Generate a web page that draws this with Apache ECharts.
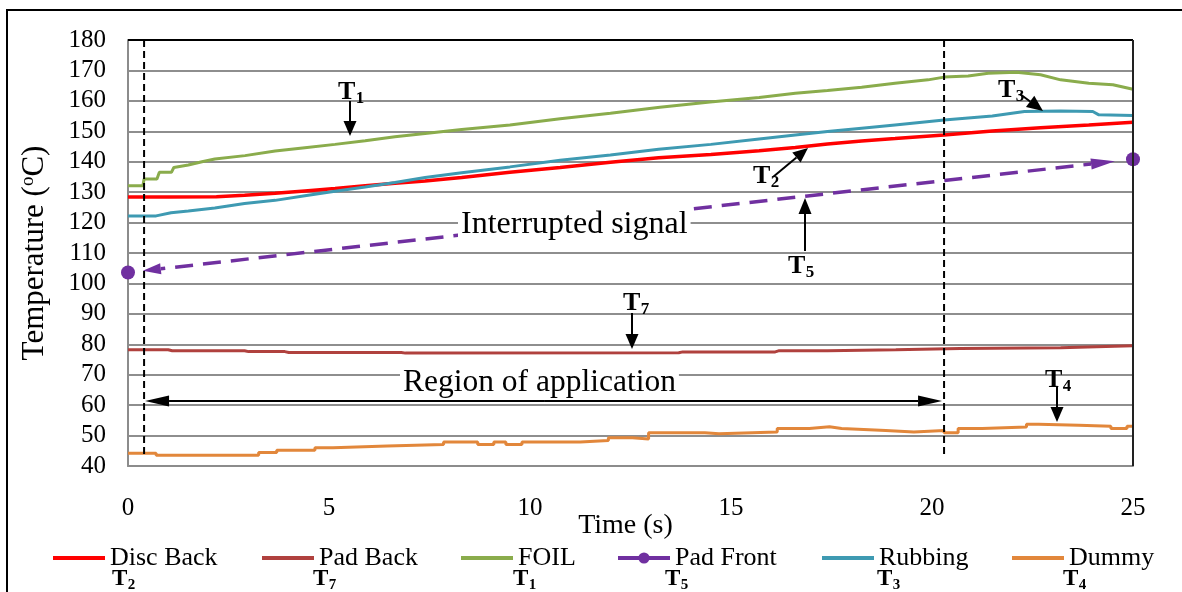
<!DOCTYPE html>
<html>
<head>
<meta charset="utf-8">
<script src="https://cdn.jsdelivr.net/npm/echarts@6/dist/echarts.min.js"></script>
<style>
  html, body { margin: 0; padding: 0; background: #fff; }
  #main { width: 1182px; height: 592px; }
</style>
</head>
<body>
<div id="main"></div>
<script>
// values (time in s, temperature in degC)
var discBackT = [0, 1, 2.2, 2.9, 3.66, 4.4, 5.15, 5.9, 6.64, 7.39, 8.3, 9.5, 10.75, 12.0, 13.2, 14.5, 15.7, 16.6, 17.4, 18.25, 19.08, 20.3, 21.5, 22.7, 23.9, 25];
var discBackV = [128.4, 128.4, 128.5, 129.0, 129.6, 130.4, 131.2, 132.1, 132.9, 133.7, 134.8, 136.5, 138.1, 139.8, 141.3, 142.4, 143.6, 144.7, 145.8, 146.8, 147.6, 148.8, 150.1, 151.2, 152.1, 153.0];

var padBackT = [0, 1.0, 1.1, 2.9, 3.0, 3.9, 4.0, 6.8, 6.9, 13.7, 13.8, 16.1, 16.2, 17.4, 19.1, 20.7, 23.2, 25];
var padBackV = [78.2, 78.2, 77.9, 77.9, 77.6, 77.6, 77.3, 77.3, 77.1, 77.2, 77.5, 77.5, 77.9, 77.9, 78.2, 78.6, 78.9, 79.5];

var foilT = [0, 0.37, 0.4, 0.72, 0.78, 1.08, 1.14, 1.5, 1.84, 2.16, 2.91, 3.66, 4.4, 5.15, 5.9, 6.64, 7.39, 8.3, 9.5, 10.75, 12.0, 13.23, 14.48, 15.7, 16.6, 17.4, 18.25, 19.08, 19.9, 20.3, 20.9, 21.4, 22.1, 22.7, 23.2, 23.9, 24.5, 25];
var foilV = [132.1, 132.1, 134.3, 134.3, 136.5, 136.5, 138.1, 138.9, 140.0, 140.9, 142.0, 143.5, 144.6, 145.7, 146.9, 148.2, 149.3, 150.6, 152.1, 154.1, 155.9, 157.9, 159.6, 161.1, 162.5, 163.4, 164.5, 165.8, 166.9, 167.8, 168.2, 169.1, 169.4, 168.6, 166.9, 165.8, 165.3, 163.8];

var padFrontT = [0, 25];
var padFrontV = [103.6, 140.8];

var rubbingT = [0, 0.7, 1.07, 1.5, 2.16, 2.9, 3.66, 4.4, 5.15, 5.9, 6.64, 7.39, 8.3, 9.5, 10.75, 12.0, 13.2, 14.5, 15.7, 16.6, 17.4, 18.25, 19.08, 20.3, 21.5, 22.3, 23.2, 24.0, 24.15, 25];
var rubbingV = [122.2, 122.2, 123.2, 123.8, 124.8, 126.3, 127.3, 128.8, 130.3, 131.7, 133.2, 134.8, 136.4, 138.3, 140.5, 142.2, 144.1, 145.7, 147.5, 148.8, 149.9, 151.0, 152.1, 153.7, 155.0, 156.5, 156.7, 156.5, 155.4, 155.2];

// dummy is drawn as steps: each value holds from its time to the next one
var dummyT = [0, 0.7, 3.25, 3.7, 4.65, 5.1, 6.45, 7.85, 8.7, 9.1, 9.4, 9.8, 11.25, 11.95, 12.55, 12.95, 14.35, 14.7, 16.15, 16.95, 17.45, 17.75, 18.85, 19.55, 20.3, 20.65, 21.25, 22.35, 22.65, 23.65, 24.45, 24.85, 25];
var dummyV = [44.2, 43.5, 44.4, 45.2, 46.0, 46.6, 47.1, 47.9, 47.1, 47.9, 47.1, 47.9, 48.4, 49.3, 48.9, 50.9, 50.6, 51.2, 52.3, 52.9, 52.3, 51.7, 51.2, 51.7, 50.9, 52.3, 52.8, 53.7, 53.4, 53.1, 52.3, 53.1, 53.1];

var seriesNames = ['Disc Back', 'Pad Back', 'FOIL', 'Pad Front', 'Rubbing', 'Dummy'];
var seriesColors = ['#ff0000', '#b0413e', '#8aac4c', '#7030a0', '#3e9ab2', '#e2873b'];
var legendTags = ['2', '7', '1', '5', '3', '4'];
var legendLefts = [51, 260, 459, 616, 820, 1010];

var yTicks = [40, 180, 10];
var xTicks = [0, 25, 5];
var regionStart = 0.4, regionEnd = 20.3;

var FONT = 'Liberation Serif';

function pairs(ts, vs) {
  return ts.map(function (t, i) { return [t, vs[i]]; });
}

var chart = echarts.init(document.getElementById('main'));

function lineSeries(idx, ts, vs, extra) {
  var s = {
    name: seriesNames[idx],
    type: 'line',
    data: pairs(ts, vs),
    symbol: 'none',
    color: seriesColors[idx],
    lineStyle: { width: 3, color: seriesColors[idx] },
    animation: false
  };
  for (var k in extra) s[k] = extra[k];
  return s;
}

var option = {
  backgroundColor: '#fff',
  animation: false,
  grid: { left: 128, right: 49, top: 40, bottom: 126 },
  xAxis: {
    type: 'value', min: xTicks[0], max: xTicks[1], interval: xTicks[2],
    name: 'Time (s)', nameLocation: 'middle', nameGap: 46, nameMoveOverlap: false,
    nameTextStyle: { fontFamily: FONT, fontSize: 28, color: '#000', padding: [0, 10, 0, 0] },
    axisLine: { lineStyle: { color: '#8c8c8c', width: 2 } },
    axisTick: { show: false },
    splitLine: { show: false },
    axisLabel: { fontFamily: FONT, fontSize: 25, color: '#000', margin: 30 }
  },
  yAxis: {
    type: 'value', min: yTicks[0], max: yTicks[1], interval: yTicks[2],
    name: 'Temperature ({s|o}C)', nameLocation: 'middle', nameGap: 78,
    nameTextStyle: {
      fontFamily: FONT, fontSize: 31, color: '#000',
      rich: { s: { fontFamily: FONT, fontSize: 19, color: '#000', verticalAlign: 'top' } }
    },
    axisLine: { show: true, lineStyle: { color: '#8c8c8c', width: 2 } },
    axisTick: { show: false },
    splitLine: { lineStyle: { color: '#8e8e8e', width: 2 } },
    axisLabel: { fontFamily: FONT, fontSize: 25, color: '#000', margin: 22 }
  },
  legend: seriesNames.map(function (n, i) {
    var marked = (i === 3);
    return {
      data: [n], left: legendLefts[i], top: 545, padding: 0,
      itemWidth: 52, itemHeight: 14, selectedMode: false,
      textStyle: { fontFamily: FONT, fontSize: 26, color: '#000' },
      itemStyle: { opacity: marked ? 1 : 0 },
      lineStyle: { width: 4, opacity: 1, type: 'solid' }
    };
  }),
  series: [
    lineSeries(0, discBackT, discBackV, { lineStyle: { width: 3.5, color: seriesColors[0] } }),
    lineSeries(1, padBackT, padBackV, {}),
    lineSeries(2, foilT, foilV, {}),
    lineSeries(3, padFrontT, padFrontV, {
      symbol: 'circle', symbolSize: 14, showSymbol: true,
      itemStyle: { color: seriesColors[3] },
      lineStyle: { width: 4, opacity: 0, color: seriesColors[3] }
    }),
    lineSeries(4, rubbingT, rubbingV, {}),
    lineSeries(5, dummyT, dummyV, { step: 'end' })
  ]
};
chart.setOption(option);

function P(t, v) { return chart.convertToPixel({ gridIndex: 0 }, [t, v]); }

function arrow(a, b, len, wid, lw, color, dash, z) {
  var dx = b[0] - a[0], dy = b[1] - a[1], L = Math.sqrt(dx * dx + dy * dy);
  var ux = dx / L, uy = dy / L;
  var bx = b[0] - ux * len, by = b[1] - uy * len;
  return [
    { type: 'line', z: z || 20, shape: { x1: a[0], y1: a[1], x2: bx, y2: by },
      style: { stroke: color, lineWidth: lw, lineDash: dash || null } },
    { type: 'polygon', z: z || 20,
      shape: { points: [[b[0], b[1]], [bx - uy * wid / 2, by + ux * wid / 2], [bx + uy * wid / 2, by - ux * wid / 2]] },
      style: { fill: color } }
  ];
}

function tag(x, y, d, big) {
  return [
    { type: 'text', z: 30, x: x, y: y,
      style: { text: 'T', font: 'bold ' + big + 'px "' + FONT + '"', fill: '#000',
        align: 'left', verticalAlign: 'middle', textAlign: 'left', textVerticalAlign: 'middle' } },
    { type: 'text', z: 30, x: x + big * 0.68, y: y + big * 0.26,
      style: { text: d, font: 'bold ' + Math.round(big * 0.66) + 'px "' + FONT + '"', fill: '#000',
        align: 'left', verticalAlign: 'middle', textAlign: 'left', textVerticalAlign: 'middle' } }
  ];
}

function label(x, y, txt, size, z) {
  return { type: 'text', z: z, x: x, y: y,
    style: { text: txt, font: size + 'px "' + FONT + '"', fill: '#000', backgroundColor: '#fff',
      padding: [3, 3], align: 'left', verticalAlign: 'middle', textAlign: 'left', textVerticalAlign: 'middle' } };
}

var g = [];
// outer frame
g.push({ type: 'rect', z: 1, shape: { x: 7, y: 10, width: 1185, height: 600 },
  style: { fill: null, stroke: '#000', lineWidth: 2 } });
// top and right edges of the plot area
var tl = P(xTicks[0], yTicks[1]), tr = P(xTicks[1], yTicks[1]), br = P(xTicks[1], yTicks[0]);
g.push({ type: 'line', z: 5, shape: { x1: tl[0], y1: tl[1], x2: tr[0], y2: tr[1] }, style: { stroke: '#000', lineWidth: 2 } });
g.push({ type: 'line', z: 5, shape: { x1: tr[0], y1: tr[1], x2: br[0], y2: br[1] }, style: { stroke: '#222', lineWidth: 2 } });

// dashed verticals bounding the region of application
[regionStart, regionEnd].forEach(function (t) {
  var a = P(t, 180), b = P(t, 43);
  g.push({ type: 'line', z: 15, shape: { x1: a[0], y1: a[1], x2: b[0], y2: b[1] },
    style: { stroke: '#000', lineWidth: 2, lineDash: [7, 4] } });
});

// region of application double arrow
var ra = P(regionStart, 61.4), rb = P(regionEnd, 61.4);
var mid = [(ra[0] + rb[0]) / 2, ra[1]];
g = g.concat(arrow(mid, [ra[0] + 1, ra[1]], 24, 11, 2, '#000'));
g = g.concat(arrow(mid, [rb[0] - 2, rb[1]], 24, 11, 2, '#000'));
g.push(label(400, 383, 'Region of application', 31.5, 12));

// pad front: dashed link between the two readings
function padAt(t) {
  var f = (t - padFrontT[0]) / (padFrontT[1] - padFrontT[0]);
  return padFrontV[0] + f * (padFrontV[1] - padFrontV[0]);
}
var pa = P(0.37, padAt(0.37)), pb = P(24.55, padAt(24.55));
var pm = P(12, padAt(12));
g = g.concat(arrow(pm, pa, 18, 11, 3.5, '#7030a0', [18, 10], 8));
g = g.concat(arrow(pm, pb, 24, 11, 3.5, '#7030a0', [18, 10], 8));
g.push(label(458, 225, 'Interrupted signal', 32, 12));

// tags with pointer arrows inside the plot
g = g.concat(tag(338, 92, '1', 26), arrow([350, 101], [350, 136], 15, 13, 2, '#000'));
g = g.concat(tag(753, 176, '2', 26), arrow([773, 177], [808, 148], 15, 13, 2, '#000'));
g = g.concat(tag(998, 90, '3', 26), arrow([1020, 94], [1043, 111], 16, 14, 2, '#000'));
g = g.concat(tag(788, 266, '5', 26), arrow([805, 251], [805, 198], 16, 13, 2, '#000'));
g = g.concat(tag(623, 303, '7', 26), arrow([632, 313], [632, 349], 15, 13, 2, '#000'));
g = g.concat(tag(1045, 380, '4', 26), arrow([1057, 387], [1057, 422], 15, 13, 2, '#000'));

// tags under the legend
var legendTagLefts = [112, 313, 513, 665, 877, 1063];
legendTags.forEach(function (d, i) { g = g.concat(tag(legendTagLefts[i], 579, d, 23)); });

chart.setOption({ graphic: g });
</script>
</body>
</html>
